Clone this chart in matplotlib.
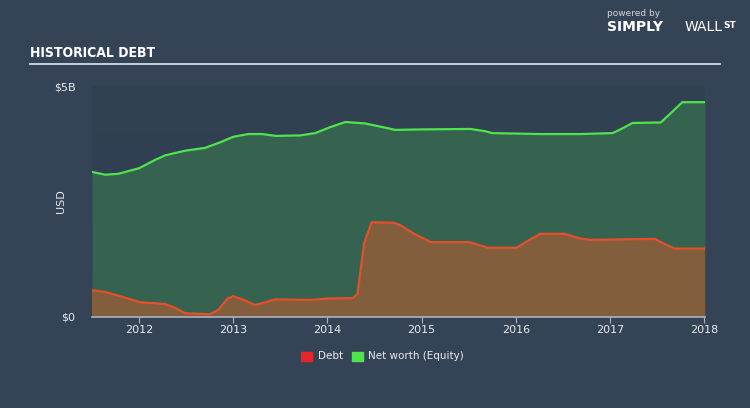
import matplotlib.pyplot as plt
import matplotlib as mpl

# data (fractional years, billions USD)
nw_x = [2011.50, 2011.64, 2011.78, 2012.00, 2012.17, 2012.28, 2012.49, 2012.70, 2012.86, 2013.00,
        2013.16, 2013.31, 2013.45, 2013.71, 2013.87, 2014.03, 2014.19, 2014.40, 2014.61, 2014.72,
        2014.99, 2015.52, 2015.68, 2015.75, 2016.26, 2016.69, 2017.03, 2017.13, 2017.24, 2017.54,
        2017.64, 2017.77, 2018.01]
nw_y = [3.14, 3.08, 3.10, 3.22, 3.40, 3.50, 3.60, 3.66, 3.78, 3.90,
        3.96, 3.96, 3.92, 3.93, 3.98, 4.11, 4.22, 4.19, 4.10, 4.05,
        4.06, 4.07, 4.02, 3.98, 3.96, 3.96, 3.98, 4.08, 4.20, 4.21,
        4.40, 4.65, 4.65]

debt_x = [2011.50, 2011.64, 2011.80, 2012.01, 2012.28, 2012.38, 2012.49, 2012.75, 2012.84, 2012.94,
          2013.00, 2013.10, 2013.23, 2013.31, 2013.44, 2013.81, 2014.02, 2014.27, 2014.32, 2014.39,
          2014.47, 2014.71, 2014.78, 2014.92, 2015.10, 2015.51, 2015.70, 2016.01, 2016.13, 2016.26,
          2016.52, 2016.68, 2016.79, 2017.48, 2017.56, 2017.69, 2018.01]
debt_y = [0.58, 0.54, 0.45, 0.32, 0.28, 0.20, 0.08, 0.06, 0.15, 0.40,
          0.45, 0.38, 0.26, 0.30, 0.38, 0.37, 0.40, 0.41, 0.50, 1.60,
          2.05, 2.04, 1.98, 1.80, 1.62, 1.62, 1.50, 1.50, 1.65, 1.80,
          1.80, 1.70, 1.67, 1.69, 1.60, 1.48, 1.48]

years = [2012, 2013, 2014, 2015, 2016, 2017, 2018]

bg = '#344456'
mpl.rcParams['hatch.color'] = '#b0562f'
mpl.rcParams['hatch.linewidth'] = 0.4

fig = plt.figure(figsize=(7.5, 4.08), dpi=100, facecolor=bg)
ax = fig.add_axes([92 / 750, 91 / 408, 613 / 750, 231 / 408])
ax.set_facecolor('#2f3d4e')

# subtle horizontal bands
for i in range(5):
    ax.axhspan(i, i + 1, color='#3a4a5c' if i % 2 == 0 else '#34435a', alpha=0.35, lw=0, zorder=0)

ax.fill_between(nw_x, nw_y, 0, color='#366350', lw=0, zorder=1)
ax.plot(nw_x, nw_y, color='#4ee44b', lw=1.6, zorder=4)
ax.fill_between(debt_x, debt_y, 0, facecolor='#3f6a50', hatch='/' * 25, edgecolor='#b0562f', lw=0, zorder=2)
ax.plot(debt_x, debt_y, color='#e5502b', lw=1.6, zorder=4)

ax.set_xlim(2011.5, 2018.01)
ax.set_ylim(0, 5)
ax.set_xticks(years)
ax.set_xticklabels([str(y) for y in years], color='#e8ecef', fontsize=8)
ax.set_yticks([0, 5])
ax.set_yticklabels(['$0', '$5B'], color='#e8ecef', fontsize=8)
ax.tick_params(axis='x', colors='#aab4be', length=4, labelcolor='#e8ecef', pad=2)
ax.tick_params(axis='y', length=0, pad=12, labelcolor='#e8ecef')
for s in ['top', 'right', 'left']:
    ax.spines[s].set_visible(False)
ax.spines['bottom'].set_color('#aab4be')
ax.spines['bottom'].set_linewidth(1.2)
ax.set_ylabel('USD', color='#e8ecef', fontsize=8)
ax.yaxis.set_label_coords(-(92 - 66) / 613, 0.5)

# title and rule
fig.text(30 / 750, 1 - 53 / 408, 'HISTORICAL DEBT', color='white', fontsize=10, fontweight='bold',
         va='center', stretch='condensed')
fig.add_artist(plt.Line2D([30 / 750, 720 / 750], [1 - 64 / 408, 1 - 64 / 408], color='#d5dbe2', lw=1.3))

# logo text
fig.text(607 / 750, 1 - 14 / 408, 'powered by', color='#d0d6dc', fontsize=6.5, va='center')
fig.text(607 / 750, 1 - 27 / 408, 'SIMPLY', color='white', fontsize=10, fontweight='bold', va='center')
fig.text(685 / 750, 1 - 27 / 408, 'WALL', color='white', fontsize=10, va='center')
fig.text(723 / 750, 1 - 25 / 408, 'ST', color='white', fontsize=6.5, fontweight='bold', va='center')

# legend
fig.patches.append(mpl.patches.Rectangle((301 / 750, 1 - 361 / 408), 11 / 750, 9 / 408,
                                         color='#e8242a', transform=fig.transFigure))
fig.text(318 / 750, 1 - 356 / 408, 'Debt', color='#e8ecef', fontsize=7.5, va='center')
fig.patches.append(mpl.patches.Rectangle((352 / 750, 1 - 361 / 408), 11 / 750, 9 / 408,
                                         color='#4ee44b', transform=fig.transFigure))
fig.text(368 / 750, 1 - 356 / 408, 'Net worth (Equity)', color='#e8ecef', fontsize=7.5, va='center')

fig.savefig('out.png', dpi=100, facecolor=bg)
